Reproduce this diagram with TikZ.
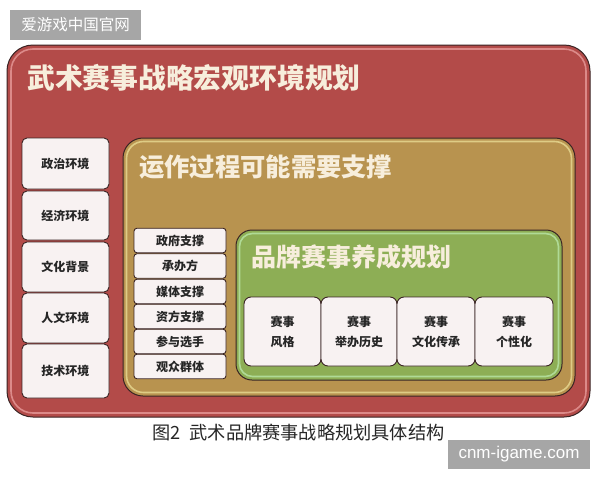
\documentclass[tikz,border=0pt]{standalone}
\usepackage{fontspec}
\newfontfamily\cjk{Noto Sans CJK SC}
\setmainfont{Liberation Sans}
\definecolor{redfill}{HTML}{B34B49}
\definecolor{tanfill}{HTML}{B8934F}
\definecolor{greenfill}{HTML}{8DAE55}
\definecolor{titletext}{HTML}{F7EEDC}
\definecolor{boxfill}{HTML}{F8F2F2}
\definecolor{edge}{HTML}{3A2424}
\definecolor{wmgray}{HTML}{A6A6A6}
\begin{document}
\begin{tikzpicture}[x=1pt,y=-1pt,
  panel/.style={draw=edge, line width=1pt, inner sep=0pt},
  glow/.style={draw=#1, line width=1.6pt, opacity=0.55, inner sep=0pt},
  cell/.style={draw=edge, line width=0.9pt, fill=boxfill, rounded corners=5pt,
    inner sep=0pt, font=\cjk\bfseries\fontsize{12}{15}\selectfont, text=black!85,
    align=center},
  ptitle/.style={anchor=west, inner sep=0pt, text=titletext, font=\cjk\bfseries},
  wm/.style={fill=wmgray, text=white, inner sep=0pt}]
\useasboundingbox (0,0) rectangle (600,480);
\fill[white] (0,0) rectangle (600,480);
% watermark top
\node[wm, minimum width=131, minimum height=30, font=\cjk\fontsize{15.5}{18}\selectfont] (wmtop) at (75.5,25) {爱游戏中国官网};
% outer red panel
\node[panel, fill=redfill, minimum width=583, minimum height=372, rounded corners=26pt] (outer) at (298.5,231) {};
\node[glow=red!25!white, minimum width=575, minimum height=364, rounded corners=22pt] (outerhl) at (outer.center) {};
\node[ptitle, font=\cjk\bfseries\fontsize{27.8}{30}\selectfont] (t1) at (27,78) {武术赛事战略宏观环境规划};
% left cells
\foreach \n/\y/\h/\t in {a/163.5/51/政治环境, b/215.5/49/经济环境, c/267/50/文化背景, d/318/50/人文环境, e/371/54/技术环境}
  \node[cell, minimum width=87, minimum height=\h] (L\n) at (65.5,\y) {\t};
% tan panel
\node[panel, fill=tanfill, minimum width=452, minimum height=258, rounded corners=20pt] (mid) at (349,267) {};
\node[glow=yellow!30!white, minimum width=445, minimum height=251, rounded corners=17pt] (midhl) at (mid.center) {};
\node[ptitle, font=\cjk\bfseries\fontsize{25.3}{28}\selectfont] (t2) at (139,167) {运作过程可能需要支撑};
% small list cells
\foreach \n/\y/\t in {a/240.5/政府支撑, b/266/承办方, c/291.5/媒体支撑, d/316.5/资方支撑, e/341.5/参与选手, f/366.5/观众群体}
  \node[cell, rounded corners=3pt, minimum width=92, minimum height=24.5] (S\n) at (180,\y) {\t};
% green panel
\node[panel, fill=greenfill, minimum width=326, minimum height=150, rounded corners=16pt] (inner) at (399,305) {};
\node[glow=green!20!white, minimum width=319, minimum height=143, rounded corners=13pt] (innerhl) at (inner.center) {};
\node[ptitle, font=\cjk\bfseries\fontsize{25}{28}\selectfont] (t3) at (251,257) {品牌赛事养成规划};
% bottom cells
\foreach \n/\x/\w/\t in {a/282.5/77/{赛事\\风格}, b/359/76/{赛事\\举办历史}, c/436/78/{赛事\\文化传承}, d/514/78/{赛事\\个性化}}
  \node[cell, rounded corners=7pt, minimum width=\w, minimum height=69, font=\cjk\bfseries\fontsize{12}{20}\selectfont] (B\n) at (\x,331.5) {\t};
% caption
\node[inner sep=0pt, anchor=west, font=\cjk\fontsize{18.2}{20}\selectfont, text=black!85] (cap) at (152,433) {图2\hspace{0.5em}武术品牌赛事战略规划具体结构};
% watermark bottom
\node[wm, minimum width=142, minimum height=29, font=\fontsize{17}{20}\selectfont] (wmbot) at (519,454.5) {cnm-igame.com};
\end{tikzpicture}
\end{document}
